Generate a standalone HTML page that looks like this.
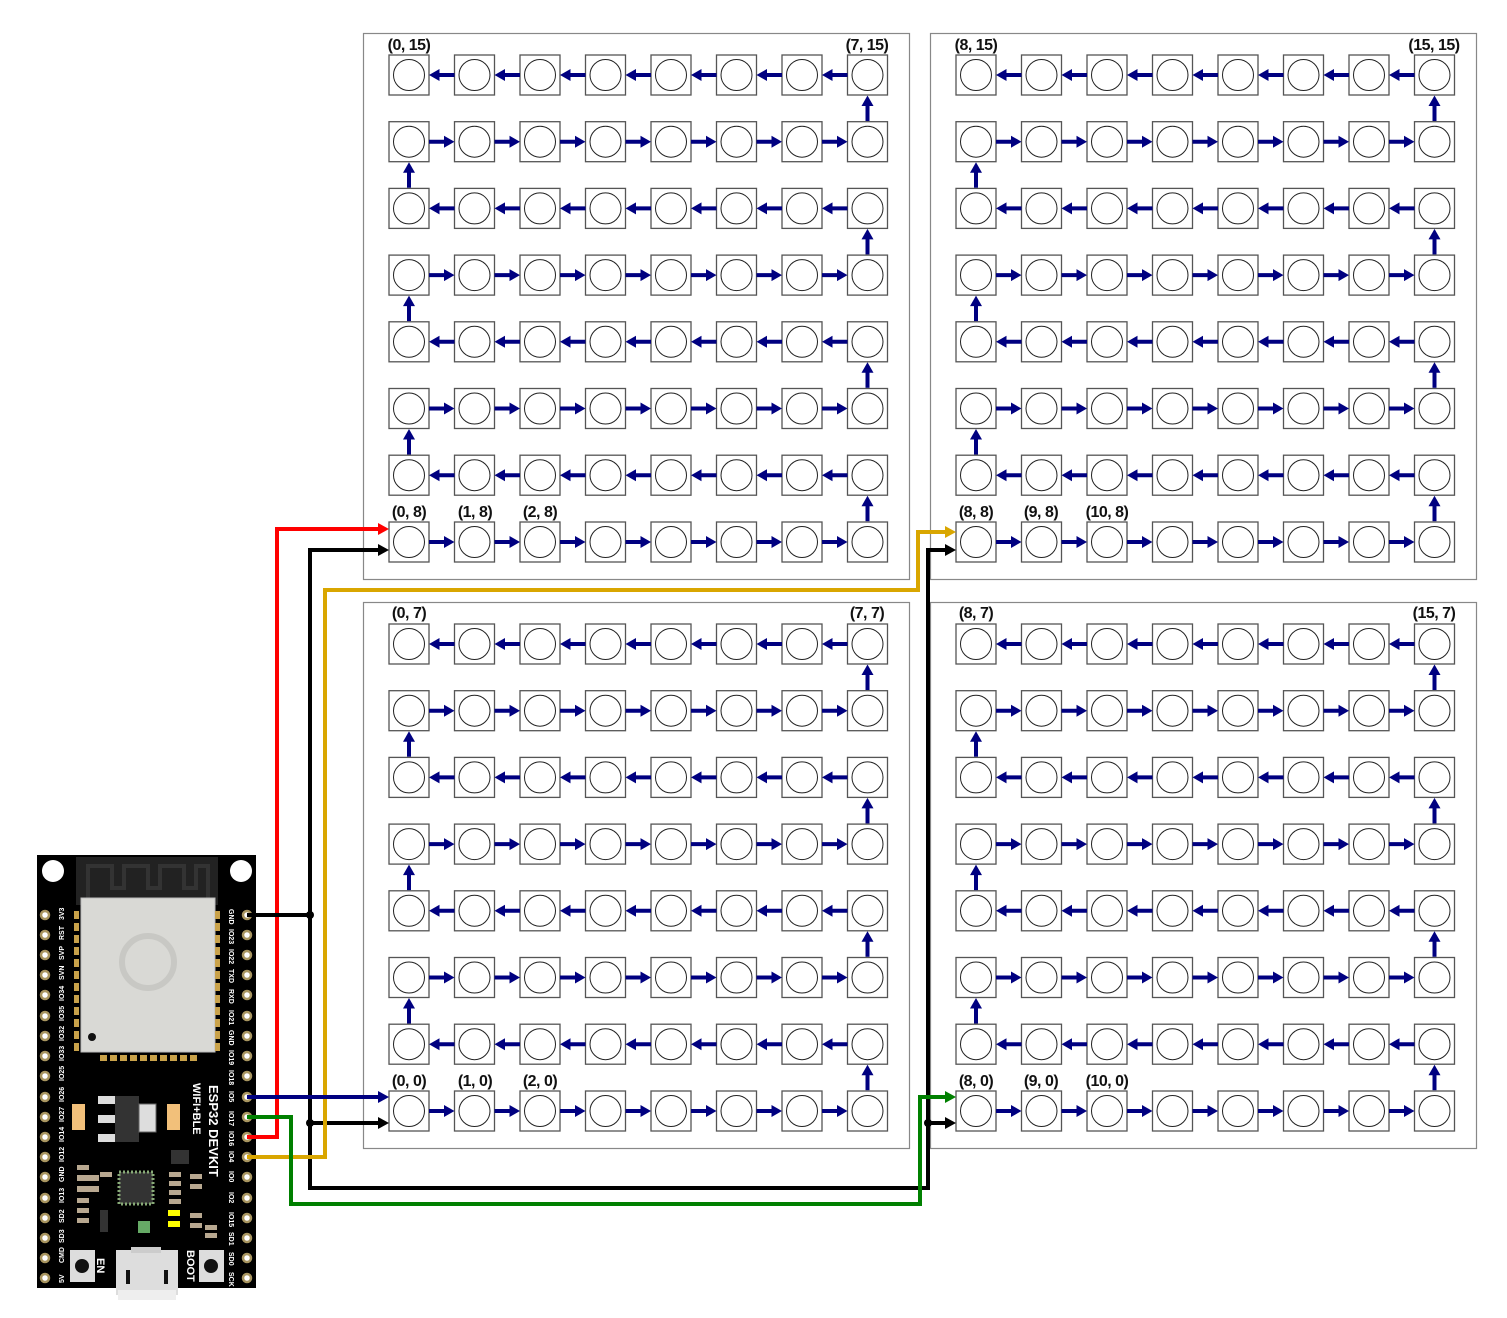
<!DOCTYPE html>
<html><head><meta charset="utf-8"><style>
html,body{margin:0;padding:0;background:#fff;}
svg{display:block;}
.lbl{font-family:"Liberation Sans",sans-serif;font-weight:bold;font-size:16px;fill:#111;text-anchor:middle;letter-spacing:-0.5px;}
.pin{font-family:"Liberation Sans",sans-serif;font-weight:bold;font-size:7px;fill:#fff;}
</style></head><body>
<svg width="1507" height="1318" viewBox="0 0 1507 1318" xmlns="http://www.w3.org/2000/svg">
<defs>
  <g id="led"><rect x="-20" y="-20" width="40" height="40" fill="#fff" stroke="#555" stroke-width="1.3"/><circle r="15.5" fill="#fff" stroke="#222" stroke-width="1"/></g>
  <g id="ar"><line x1="20" y1="0" x2="37" y2="0" stroke="#000080" stroke-width="4"/><polygon points="35,-6 45.5,0 35,6" fill="#000080"/></g>
  <g id="al"><line x1="28" y1="0" x2="45.5" y2="0" stroke="#000080" stroke-width="4"/><polygon points="30.5,-6 20,0 30.5,6" fill="#000080"/></g>
  <g id="au"><line x1="0" y1="5" x2="0" y2="-12" stroke="#000080" stroke-width="4"/><polygon points="-6,-10 0,-20.5 6,-10" fill="#000080"/></g>
  <g id="rowR">
    <use href="#led" x="46"/><use href="#led" x="111.5"/><use href="#led" x="177"/><use href="#led" x="242.5"/>
    <use href="#led" x="308"/><use href="#led" x="373.5"/><use href="#led" x="439"/><use href="#led" x="504.5"/>
    <use href="#ar" x="46"/><use href="#ar" x="111.5"/><use href="#ar" x="177"/><use href="#ar" x="242.5"/>
    <use href="#ar" x="308"/><use href="#ar" x="373.5"/><use href="#ar" x="439"/>
  </g>
  <g id="rowL">
    <use href="#led" x="46"/><use href="#led" x="111.5"/><use href="#led" x="177"/><use href="#led" x="242.5"/>
    <use href="#led" x="308"/><use href="#led" x="373.5"/><use href="#led" x="439"/><use href="#led" x="504.5"/>
    <use href="#al" x="46"/><use href="#al" x="111.5"/><use href="#al" x="177"/><use href="#al" x="242.5"/>
    <use href="#al" x="308"/><use href="#al" x="373.5"/><use href="#al" x="439"/>
  </g>
  <g id="panel">
    <rect x="0.5" y="0.5" width="546" height="546" fill="#fff" stroke="#888" stroke-width="1.2"/>
    <use href="#rowL" y="42"/><use href="#rowR" y="108.7"/><use href="#rowL" y="175.4"/><use href="#rowR" y="242.1"/>
    <use href="#rowL" y="308.8"/><use href="#rowR" y="375.5"/><use href="#rowL" y="442.2"/><use href="#rowR" y="509"/>
    <use href="#au" x="504.5" y="83"/><use href="#au" x="504.5" y="216.4"/><use href="#au" x="504.5" y="349.8"/><use href="#au" x="504.5" y="483.2"/>
    <use href="#au" x="46" y="149.7"/><use href="#au" x="46" y="283.1"/><use href="#au" x="46" y="416.5"/>
  </g>
</defs>

<use href="#panel" x="363" y="33"/>
<use href="#panel" x="930" y="33"/>
<use href="#panel" x="363" y="602"/>
<use href="#panel" x="930" y="602"/>

<!-- labels -->
<text class="lbl" x="409" y="50">(0, 15)</text>
<text class="lbl" x="867" y="50">(7, 15)</text>
<text class="lbl" x="976" y="50">(8, 15)</text>
<text class="lbl" x="1434" y="50">(15, 15)</text>
<text class="lbl" x="409" y="517">(0, 8)</text>
<text class="lbl" x="475" y="517">(1, 8)</text>
<text class="lbl" x="540" y="517">(2, 8)</text>
<text class="lbl" x="976" y="517">(8, 8)</text>
<text class="lbl" x="1041" y="517">(9, 8)</text>
<text class="lbl" x="1107" y="517">(10, 8)</text>
<text class="lbl" x="409" y="618">(0, 7)</text>
<text class="lbl" x="867" y="618">(7, 7)</text>
<text class="lbl" x="976" y="618">(8, 7)</text>
<text class="lbl" x="1434" y="618">(15, 7)</text>
<text class="lbl" x="409" y="1086">(0, 0)</text>
<text class="lbl" x="475" y="1086">(1, 0)</text>
<text class="lbl" x="540" y="1086">(2, 0)</text>
<text class="lbl" x="976" y="1086">(8, 0)</text>
<text class="lbl" x="1041" y="1086">(9, 0)</text>
<text class="lbl" x="1107" y="1086">(10, 0)</text>

<!-- ESP32 board -->
<g>
  <rect x="37" y="855" width="219" height="433" fill="#000"/>
  <rect x="76" y="857" width="142" height="48" fill="#222"/>
  <polyline points="88,898 88,866 112,866 112,888 124,888 124,866 148,866 148,888 160,888 160,866 184,866 184,888 196,888 196,866 208,866 208,898" fill="none" stroke="#333" stroke-width="4"/>
  <circle cx="53" cy="871" r="11" fill="#fff"/>
  <circle cx="241" cy="871" r="11" fill="#fff"/>
  <rect x="81" y="898" width="134" height="154" fill="#d9d9d5" stroke="#bbb"/>
  <circle cx="148" cy="962" r="26" fill="none" stroke="#c8c8c4" stroke-width="6"/>
  <circle cx="92" cy="1037" r="4" fill="#111"/>
  <g fill="#c9a24a">
    <rect x="74" y="911" width="5" height="8"/><rect x="74" y="923" width="5" height="8"/><rect x="74" y="935" width="5" height="8"/><rect x="74" y="947" width="5" height="8"/><rect x="74" y="959" width="5" height="8"/><rect x="74" y="971" width="5" height="8"/><rect x="74" y="983" width="5" height="8"/><rect x="74" y="995" width="5" height="8"/><rect x="74" y="1007" width="5" height="8"/><rect x="74" y="1019" width="5" height="8"/><rect x="74" y="1031" width="5" height="8"/><rect x="74" y="1043" width="5" height="8"/>
    <rect x="215" y="911" width="5" height="8"/><rect x="215" y="923" width="5" height="8"/><rect x="215" y="935" width="5" height="8"/><rect x="215" y="947" width="5" height="8"/><rect x="215" y="959" width="5" height="8"/><rect x="215" y="971" width="5" height="8"/><rect x="215" y="983" width="5" height="8"/><rect x="215" y="995" width="5" height="8"/><rect x="215" y="1007" width="5" height="8"/><rect x="215" y="1019" width="5" height="8"/><rect x="215" y="1031" width="5" height="8"/><rect x="215" y="1043" width="5" height="8"/>
    <rect x="100" y="1055" width="7" height="6"/><rect x="110" y="1055" width="7" height="6"/><rect x="120" y="1055" width="7" height="6"/><rect x="130" y="1055" width="7" height="6"/><rect x="140" y="1055" width="7" height="6"/><rect x="150" y="1055" width="7" height="6"/><rect x="160" y="1055" width="7" height="6"/><rect x="170" y="1055" width="7" height="6"/><rect x="180" y="1055" width="7" height="6"/><rect x="190" y="1055" width="7" height="6"/>
  </g>
  <!-- regulator -->
  <rect x="98" y="1096" width="20" height="8" fill="#ddd"/><rect x="98" y="1115" width="20" height="8" fill="#ddd"/><rect x="98" y="1134" width="20" height="8" fill="#ddd"/>
  <rect x="115" y="1096" width="24" height="46" fill="#333"/>
  <rect x="139" y="1104" width="17" height="28" fill="#ddd" stroke="#666"/>
  <rect x="72" y="1104" width="13" height="26" fill="#f2c07a"/>
  <rect x="167" y="1104" width="13" height="26" fill="#f2c07a"/>
  <!-- chip -->
  <rect x="119" y="1172" width="34" height="32" fill="#333" stroke="#8a7" stroke-dasharray="2,2" stroke-width="3"/>
  <rect x="171" y="1150" width="18" height="14" fill="#333"/>
  <g fill="#b8a890">
    <rect x="77" y="1165" width="12" height="5"/><rect x="77" y="1175" width="22" height="6"/><rect x="77" y="1186" width="22" height="6"/><rect x="77" y="1198" width="12" height="5"/><rect x="77" y="1208" width="12" height="5"/><rect x="77" y="1218" width="12" height="5"/>
    <rect x="100" y="1172" width="12" height="5"/><rect x="169" y="1172" width="12" height="5"/><rect x="169" y="1181" width="12" height="5"/><rect x="169" y="1190" width="12" height="5"/><rect x="169" y="1199" width="12" height="5"/>
    <rect x="190" y="1174" width="12" height="5"/><rect x="190" y="1184" width="12" height="5"/><rect x="190" y="1213" width="12" height="5"/><rect x="190" y="1223" width="12" height="5"/><rect x="205" y="1225" width="12" height="5"/><rect x="205" y="1233" width="12" height="5"/>
  </g>
  <rect x="168" y="1210" width="12" height="6" fill="#ff0"/><rect x="168" y="1221" width="12" height="6" fill="#ff0"/>
  <rect x="138" y="1221" width="12" height="12" fill="#6a6"/>
  <rect x="100" y="1210" width="8" height="22" fill="#333"/>
  <!-- buttons -->
  <rect x="70" y="1250" width="25" height="32" fill="#ddd"/><circle cx="82" cy="1266" r="7" fill="#111"/>
  <rect x="199" y="1250" width="25" height="32" fill="#ddd"/><circle cx="211" cy="1266" r="7" fill="#111"/>
  <!-- usb -->
  <rect x="116" y="1250" width="62" height="45" fill="#ddd"/>
  <rect x="118" y="1290" width="58" height="10" fill="#eee"/>
  <rect x="126" y="1270" width="4" height="14" fill="#111"/><rect x="164" y="1270" width="4" height="14" fill="#111"/>
  <rect x="131" y="1247" width="30" height="6" fill="#ccc"/>
  <text x="0" y="0" transform="translate(209,1085) rotate(90)" style="font-family:'Liberation Sans',sans-serif;font-weight:bold;font-size:13px;fill:#fff">ESP32 DEVKIT</text>
  <text x="0" y="0" transform="translate(193,1083) rotate(90)" style="font-family:'Liberation Sans',sans-serif;font-weight:bold;font-size:11px;fill:#fff">WIFI+BLE</text>
  <text x="0" y="0" transform="translate(97,1258) rotate(90)" style="font-family:'Liberation Sans',sans-serif;font-weight:bold;font-size:11px;fill:#fff">EN</text>
  <text x="0" y="0" transform="translate(187,1250) rotate(90)" style="font-family:'Liberation Sans',sans-serif;font-weight:bold;font-size:11px;fill:#fff">BOOT</text>
  <!-- holes -->
  <g fill="#fff" stroke="#a89560" stroke-width="2.5">
    <circle cx="45" cy="915" r="4"/><circle cx="45" cy="935" r="4"/><circle cx="45" cy="955" r="4"/><circle cx="45" cy="975" r="4"/><circle cx="45" cy="995" r="4"/><circle cx="45" cy="1016" r="4"/><circle cx="45" cy="1036" r="4"/><circle cx="45" cy="1056" r="4"/><circle cx="45" cy="1076" r="4"/><circle cx="45" cy="1097" r="4"/><circle cx="45" cy="1117" r="4"/><circle cx="45" cy="1137" r="4"/><circle cx="45" cy="1157" r="4"/><circle cx="45" cy="1177" r="4"/><circle cx="45" cy="1198" r="4"/><circle cx="45" cy="1218" r="4"/><circle cx="45" cy="1238" r="4"/><circle cx="45" cy="1258" r="4"/><circle cx="45" cy="1278" r="4"/>
    <circle cx="247" cy="915" r="4"/><circle cx="247" cy="935" r="4"/><circle cx="247" cy="955" r="4"/><circle cx="247" cy="975" r="4"/><circle cx="247" cy="995" r="4"/><circle cx="247" cy="1016" r="4"/><circle cx="247" cy="1036" r="4"/><circle cx="247" cy="1056" r="4"/><circle cx="247" cy="1076" r="4"/><circle cx="247" cy="1097" r="4"/><circle cx="247" cy="1117" r="4"/><circle cx="247" cy="1137" r="4"/><circle cx="247" cy="1157" r="4"/><circle cx="247" cy="1177" r="4"/><circle cx="247" cy="1198" r="4"/><circle cx="247" cy="1218" r="4"/><circle cx="247" cy="1238" r="4"/><circle cx="247" cy="1258" r="4"/><circle cx="247" cy="1278" r="4"/>
  </g>
  <!-- pin labels left (bottom-to-top) -->
  <g class="pin">
    <text transform="translate(64,920) rotate(-90)">3V3</text>
    <text transform="translate(64,940) rotate(-90)">RST</text>
    <text transform="translate(64,960) rotate(-90)">SVP</text>
    <text transform="translate(64,980) rotate(-90)">SVN</text>
    <text transform="translate(64,1001) rotate(-90)">IO34</text>
    <text transform="translate(64,1021) rotate(-90)">IO35</text>
    <text transform="translate(64,1041) rotate(-90)">IO32</text>
    <text transform="translate(64,1061) rotate(-90)">IO33</text>
    <text transform="translate(64,1081) rotate(-90)">IO25</text>
    <text transform="translate(64,1102) rotate(-90)">IO26</text>
    <text transform="translate(64,1122) rotate(-90)">IO27</text>
    <text transform="translate(64,1142) rotate(-90)">IO14</text>
    <text transform="translate(64,1162) rotate(-90)">IO12</text>
    <text transform="translate(64,1182) rotate(-90)">GND</text>
    <text transform="translate(64,1203) rotate(-90)">IO13</text>
    <text transform="translate(64,1223) rotate(-90)">SD2</text>
    <text transform="translate(64,1243) rotate(-90)">SD3</text>
    <text transform="translate(64,1263) rotate(-90)">CMD</text>
    <text transform="translate(64,1283) rotate(-90)">5V</text>
    <text transform="translate(229,909) rotate(90)">GND</text>
    <text transform="translate(229,929) rotate(90)">IO23</text>
    <text transform="translate(229,949) rotate(90)">IO22</text>
    <text transform="translate(229,969) rotate(90)">TXD</text>
    <text transform="translate(229,989) rotate(90)">RXD</text>
    <text transform="translate(229,1010) rotate(90)">IO21</text>
    <text transform="translate(229,1030) rotate(90)">GND</text>
    <text transform="translate(229,1050) rotate(90)">IO19</text>
    <text transform="translate(229,1070) rotate(90)">IO18</text>
    <text transform="translate(229,1091) rotate(90)">IO5</text>
    <text transform="translate(229,1111) rotate(90)">IO17</text>
    <text transform="translate(229,1131) rotate(90)">IO16</text>
    <text transform="translate(229,1151) rotate(90)">IO4</text>
    <text transform="translate(229,1171) rotate(90)">IO0</text>
    <text transform="translate(229,1192) rotate(90)">IO2</text>
    <text transform="translate(229,1212) rotate(90)">IO15</text>
    <text transform="translate(229,1232) rotate(90)">SD1</text>
    <text transform="translate(229,1252) rotate(90)">SD0</text>
    <text transform="translate(229,1272) rotate(90)">SCK</text>
  </g>
</g>

<!-- wires -->
<g fill="none" stroke-width="4" stroke-linejoin="miter">
  <polyline points="247,1137 277,1137 277,529 380,529" stroke="#ff0000"/>
  <polyline points="247,915 310,915" stroke="#000"/>
  <polyline points="380,550 310,550 310,1188 928,1188 928,550 947,550" stroke="#000"/>
  <polyline points="310,1123 380,1123" stroke="#000"/>
  <polyline points="928,1123 947,1123" stroke="#000"/>
  <polyline points="247,1157 325,1157 325,590 918,590 918,532 947,532" stroke="#d9a600"/>
  <polyline points="247,1097 380,1097" stroke="#000080"/>
  <polyline points="247,1117 291,1117 291,1204 920,1204 920,1097 947,1097" stroke="#008000"/>
</g>
<circle cx="310" cy="915" r="4" fill="#000"/>
<circle cx="310" cy="1123" r="4" fill="#000"/>
<circle cx="928" cy="1123" r="4" fill="#000"/>
<polygon points="378,523 389,529 378,535" fill="#ff0000"/>
<polygon points="378,544 389,550 378,556" fill="#000"/>
<polygon points="378,1117 389,1123 378,1129" fill="#000"/>
<polygon points="378,1091 389,1097 378,1103" fill="#000080"/>
<polygon points="945,526 956,532 945,538" fill="#d9a600"/>
<polygon points="945,544 956,550 945,556" fill="#000"/>
<polygon points="945,1091 956,1097 945,1103" fill="#008000"/>
<polygon points="945,1117 956,1123 945,1129" fill="#000"/>
</svg>
</body></html>
